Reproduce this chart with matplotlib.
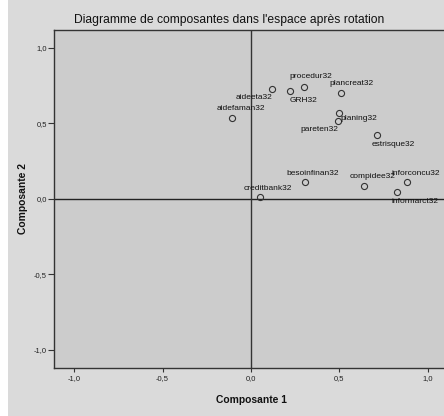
import matplotlib
matplotlib.use("Agg")
import matplotlib.pyplot as plt
from matplotlib.patches import Rectangle

# component loadings after rotation
variables = ["aidefaman32", "aideeta32", "GRH32", "procedur32", "plancreat32",
             "planing32", "pareten32", "estrisque32", "besoinfinan32",
             "compidee32", "inforconcu32", "informarct32", "creditbank32"]
comp1 = [-0.105, 0.119, 0.220, 0.299, 0.510, 0.499, 0.491, 0.712, 0.303,
         0.637, 0.883, 0.825, 0.049]
comp2 = [0.533, 0.727, 0.712, 0.742, 0.703, 0.566, 0.518, 0.421, 0.108,
         0.086, 0.110, 0.042, 0.015]

ticks = [-1.0, -0.5, 0.0, 0.5, 1.0]
tick_labels = ["-1,0", "-0,5", "0,0", "0,5", "1,0"]

# label offsets in pixels, like SPSS places them
offsets = {
    "aidefaman32": (8, 10), "aideeta32": (-18, -9), "GRH32": (14, -9),
    "procedur32": (7, 10), "plancreat32": (10, 9), "planing32": (19, -5),
    "pareten32": (-19, -9), "estrisque32": (16, -9), "besoinfinan32": (8, 9),
    "compidee32": (9, 9), "inforconcu32": (8, 9), "informarct32": (18, -9),
    "creditbank32": (8, 8),
}

plt.rcParams["font.family"] = ["Liberation Sans", "DejaVu Sans"]

fig = plt.figure(figsize=(4.44, 4.16), dpi=100)
fig.patch.set_facecolor("#dadada")
fig.patches.append(Rectangle((0, 0), 8 / 444, 1, transform=fig.transFigure,
                             facecolor="white", edgecolor="none", zorder=0))

ax = fig.add_axes([54 / 444, 48 / 416, 394 / 444, 338 / 416])
ax.set_facecolor("#cccccc")
ax.set_xlim(-1.113, 1.113)
ax.set_ylim(-1.12, 1.117)

ax.axhline(0, color="#222222", linewidth=1.0, zorder=1)
ax.axvline(0, color="#333333", linewidth=1.0, zorder=1)

ax.plot(comp1, comp2, "o", markersize=4.4, markerfacecolor="none",
        markeredgecolor="#333333", markeredgewidth=0.8, zorder=3)

for name, x, y in zip(variables, comp1, comp2):
    dx, dy = offsets[name]
    ax.annotate(name, (x, y), xytext=(dx, dy), textcoords="offset pixels",
                ha="center", va="center", fontsize=6.0, color="#111111")

ax.set_xticks(ticks)
ax.set_xticklabels(tick_labels)
ax.set_yticks(ticks)
ax.set_yticklabels(tick_labels)
ax.tick_params(width=0.8, color="#333333", labelsize=5.5,
               labelcolor="#222222")
ax.tick_params(axis="y", length=4, pad=1)
ax.tick_params(axis="x", length=3, pad=2)

for side in ["left", "bottom", "top", "right"]:
    ax.spines[side].set_color("#333333")
    ax.spines[side].set_linewidth(1.0)

fig.text(229 / 444, 1 - 20 / 416,
         "Diagramme de composantes dans l'espace après rotation",
         ha="center", va="center", fontsize=8.7, color="#111111")
fig.text(251.5 / 444, 1 - 400 / 416, "Composante 1", ha="center", va="center",
         fontsize=7.4, fontweight="bold", color="#111111")
fig.text(23 / 444, 1 - 199 / 416, "Composante 2", ha="center", va="center",
         rotation=90, fontsize=7.4, fontweight="bold", color="#111111")

fig.savefig("out.png", dpi=100, facecolor=fig.get_facecolor())
